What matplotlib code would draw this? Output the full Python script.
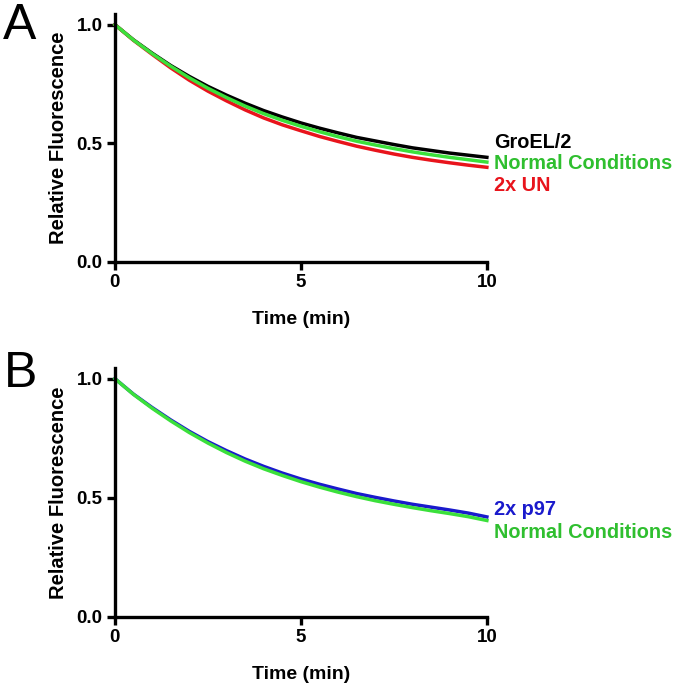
import matplotlib
matplotlib.use('Agg')
import matplotlib.pyplot as plt

plt.rcParams['font.family'] = ['Liberation Sans', 'DejaVu Sans']

# time points (min)
time = [0, 0.5, 1, 1.5, 2, 2.5, 3, 3.5, 4, 4.5, 5, 5.5, 6, 6.5, 7, 7.5, 8, 8.5, 9, 9.5, 10]

# panel A
groel = [1.0, 0.936, 0.880, 0.828, 0.782, 0.740, 0.703, 0.669, 0.638, 0.611, 0.586,
         0.564, 0.544, 0.525, 0.510, 0.495, 0.481, 0.470, 0.459, 0.450, 0.441]
normal_a = [1.0, 0.935, 0.878, 0.825, 0.776, 0.732, 0.693, 0.657, 0.625, 0.597, 0.572,
            0.549, 0.528, 0.509, 0.493, 0.478, 0.464, 0.452, 0.441, 0.431, 0.421]
un2x = [1.0, 0.934, 0.875, 0.818, 0.766, 0.720, 0.679, 0.641, 0.607, 0.578, 0.553,
        0.529, 0.508, 0.488, 0.471, 0.455, 0.441, 0.429, 0.418, 0.408, 0.399]

# panel B
p97 = [1.0, 0.935, 0.879, 0.827, 0.779, 0.736, 0.698, 0.663, 0.632, 0.604, 0.579,
       0.557, 0.537, 0.518, 0.502, 0.487, 0.473, 0.461, 0.449, 0.436, 0.420]
normal_b = [1.0, 0.934, 0.876, 0.823, 0.774, 0.730, 0.690, 0.654, 0.622, 0.594, 0.568,
            0.545, 0.524, 0.505, 0.488, 0.473, 0.459, 0.446, 0.434, 0.421, 0.405]

line_green = '#3be03b'
text_green = '#2fbf2f'
red = '#e8141c'
blue = '#1a1acc'

fig = plt.figure(figsize=(6.8, 6.9), dpi=100)
axA = fig.add_axes([0.169, 0.6203, 0.547, 0.3594])
axB = fig.add_axes([0.169, 0.1058, 0.547, 0.3609])


def style(ax):
    ax.set_xlim(0, 10)
    ax.set_ylim(0, 1.045)
    ax.set_xticks([0, 5, 10])
    ax.set_yticks([0.0, 0.5, 1.0])
    ax.set_yticklabels(['0.0', '0.5', '1.0'])
    for s in ['top', 'right']:
        ax.spines[s].set_visible(False)
    for s in ['left', 'bottom']:
        ax.spines[s].set_linewidth(2.4)
    ax.tick_params(width=2.4, length=6, labelsize=13.5, pad=3)
    for lab in ax.get_xticklabels() + ax.get_yticklabels():
        lab.set_fontweight('bold')
    ax.set_xlabel('Time (min)', fontsize=14, fontweight='bold', labelpad=14)
    ax.set_ylabel('Relative Fluorescence', fontsize=14.5, fontweight='bold', labelpad=6)


axA.plot(time, groel, color='black', lw=2.5, clip_on=False)
axA.plot(time, un2x, color=red, lw=2.5, clip_on=False)
axA.plot(time, normal_a, color=line_green, lw=2.5, clip_on=False)
style(axA)
axA.text(10.2, 0.502, 'GroEL/2', color='black', fontsize=14.3, fontweight='bold', va='center')
axA.text(10.2, 0.414, 'Normal Conditions', color=text_green, fontsize=14.3, fontweight='bold', va='center')
axA.text(10.2, 0.322, '2x UN', color=red, fontsize=14.3, fontweight='bold', va='center')

axB.plot(time, p97, color=blue, lw=2.5, clip_on=False)
axB.plot(time, normal_b, color=line_green, lw=2.5, clip_on=False)
style(axB)
axB.text(10.2, 0.45, '2x p97', color=blue, fontsize=14.3, fontweight='bold', va='center')
axB.text(10.2, 0.353, 'Normal Conditions', color=text_green, fontsize=14.3, fontweight='bold', va='center')

fig.text(0.005, 0.995, 'A', fontsize=36, va='top', ha='left')
fig.text(0.005, 0.492, 'B', fontsize=36, va='top', ha='left')

fig.savefig('out.png', dpi=100, facecolor='white')
